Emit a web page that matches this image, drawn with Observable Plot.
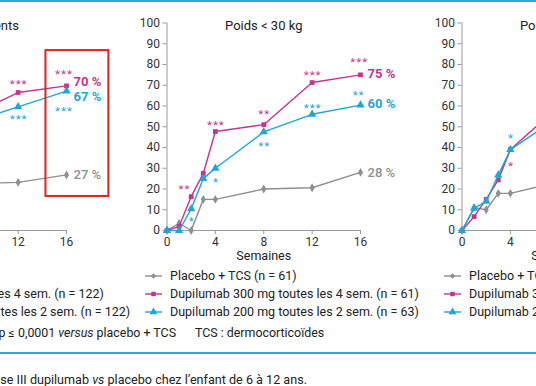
<!DOCTYPE html>
<html><head><meta charset="utf-8">
<script src="https://cdn.jsdelivr.net/npm/d3@7"></script>
<script src="https://cdn.jsdelivr.net/npm/@observablehq/plot@0.6"></script>
<style>
html,body{margin:0;padding:0;background:#fff;}
body{width:536px;height:386px;overflow:hidden;position:relative;font-family:Roboto,"DejaVu Sans",sans-serif;color:#333;}
.abs{position:absolute;white-space:nowrap;}
svg{overflow:visible;}
.stars text{letter-spacing:1px;}
</style></head><body>
<script>
// ---------- data ----------
const seriesKeys = ["placebo", "q4w300", "q2w200"];
const weeksAll = [8, 12, 16];
const allPlacebo = [22.5, 23.2, 26.8];
const all300q4w = [55.3, 66.5, 69.7];
const all200q2w = [51.9, 59.6, 67.2];

const weeksLt30 = [0, 1, 2, 3, 4, 8, 12, 16];
const lt30Placebo = [0, 3.5, 0, 15, 15, 20, 20.6, 28];
const lt30_300q4w = [0, 2, 16.3, 27.5, 47.7, 51, 71.3, 75];
const lt30_200q2w = [0, 0, 10.4, 25, 30, 47.5, 56, 60.4];

const weeksGe30 = [0, 1, 2, 3, 4, 8];
const ge30Placebo = [0, 11, 10, 17.9, 17.9, 23.4];
const ge30_300q4w = [0, 6.7, 15, 24.4, 39, 59.8];
const ge30_200q2w = [0, 10.7, 14, 26.7, 39, 54.6];

const endLabelsAll = ["27 %", "70 %", "67 %"];
const endLabelsLt30 = ["28 %", "75 %", "60 %"];

// significance marks: [week, value, text, seriesIndex]
const starsAll = [[12, 71.5, "***", 1], [12, 54.9, "***", 2], [15.75, 76.3, "***", 1], [15.75, 58.7, "***", 2]];
const starsLt30 = [[1.4, 20.9, "**", 1], [2, 5.6, "*", 2], [4, 52.0, "***", 1], [4, 24.4, "*", 2],
  [8, 57.0, "**", 1], [8, 42.0, "**", 2], [12, 76.0, "***", 1], [12, 60.2, "***", 2],
  [15.85, 82.3, "***", 1], [15.8, 66.2, "**", 2]];
const starsGe30 = [[4, 45.8, "*", 2], [4, 32.1, "*", 1]];

const titles = ["Tous les patients", "Poids < 30 kg", "Poids \u2265 30 kg"];
const xTicks = [0, 4, 8, 12, 16];
const yTicks = [0, 10, 20, 30, 40, 50, 60, 70, 80, 90, 100];
const xLabel = "Semaines";

const legendAll = ["Placebo + TCS (n = 123)", "Dupilumab 300 mg toutes les 4 sem. (n = 122)", "Dupilumab 100/200 mg toutes les 2 sem. (n = 122)"];
const legendLt30 = ["Placebo + TCS (n = 61)", "Dupilumab 300 mg toutes les 4 sem. (n = 61)", "Dupilumab 200 mg toutes les 2 sem. (n = 63)"];
const legendGe30 = ["Placebo + TCS (n = 62)", "Dupilumab 300 mg toutes les 4 sem. (n = 61)", "Dupilumab 200 mg toutes les 2 sem. (n = 59)"];

const highlightAll = {x1: 14.3, x2: 19.5, y1: 16.4, y2: 86.7};

const footnote = "* p < 0,05 ; ** p < 0,001 ; *** p \u2264 0,0001 <i>versus</i> placebo + TCS";
const footnote2 = "TCS : dermocortico\u00efdes";
const caption = "Figure 2. \u00c9tude de phase III dupilumab <i>vs</i> placebo chez l\u2019enfant de 6 \u00e0 12 ans.";

// ---------- styles ----------
const colors = ["#8f8f8f", "#c2368d", "#1ea6d6"];
const symbols = ["diamond", "square", "triangle"];
const symR = [2.7, 2.7, 3.1];
const BLUE = "#2aa8e0";

function rows(weeks, vals) { return weeks.map((w, i) => ({week: w, value: vals[i]})); }

const panels = [
  {left: -164.5, title: titles[0], data: [rows(weeksAll, allPlacebo), rows(weeksAll, all300q4w), rows(weeksAll, all200q2w)],
   labels: endLabelsAll, labelDy: [0, -4, 6], stars: starsAll, legend: legendAll, legendText: -152, highlight: highlightAll},
  {left: 130, title: titles[1], data: [rows(weeksLt30, lt30Placebo), rows(weeksLt30, lt30_300q4w), rows(weeksLt30, lt30_200q2w)],
   labels: endLabelsLt30, labelDy: [0, -1.5, -1], stars: starsLt30, legend: legendLt30, legendText: 170},
  {left: 424.5, title: titles[2], data: [rows(weeksGe30, ge30Placebo), rows(weeksGe30, ge30_300q4w), rows(weeksGe30, ge30_200q2w)],
   labels: null, labelDy: [0, 0, 0], stars: starsGe30, legend: legendGe30, legendText: 469}
];

function addDiv(html, style) {
  const d = document.createElement("div");
  d.className = "abs";
  d.innerHTML = html;
  Object.assign(d.style, style);
  document.body.appendChild(d);
  return d;
}

// top stripe & rule
addDiv("", {left: "0px", top: "0px", width: "536px", height: "2px", background: BLUE});
addDiv("", {left: "0px", top: "352px", width: "536px", height: "2px", background: BLUE});

const drawOrder = [0, 1, 2];
for (const p of panels) {
  const marks = [
    Plot.ruleY([0], {stroke: "#9a9a9a"}),
    Plot.ruleX([0], {stroke: "#9a9a9a"}),
    Plot.axisY({ticks: yTicks, tickSize: 4, tickPadding: 3, stroke: "#9a9a9a", fill: "#333", label: null, fontSize: 12}),
    Plot.axisX({ticks: xTicks, tickSize: 4, tickPadding: 3, stroke: "#9a9a9a", fill: "#333", label: null, fontSize: 12}),
    Plot.text([p.title], {frameAnchor: "top", lineAnchor: "middle", dy: 2.5, fontSize: 13, fill: "#222"}),
    Plot.text([xLabel], {frameAnchor: "bottom", lineAnchor: "middle", dy: 25, fontSize: 12.5, fill: "#222"})
  ];
  for (const s of drawOrder) {
    marks.push(Plot.line(p.data[s], {x: "week", y: "value", stroke: colors[s], strokeWidth: 1.4}));
    marks.push(Plot.dot(p.data[s], {x: "week", y: "value", symbol: symbols[s], fill: colors[s], r: symR[s]}));
  }
  marks.push(Plot.text(p.stars, {x: d => d[0], y: d => d[1], text: d => d[2], fill: d => colors[d[3]], fontSize: 11.5,
    lineAnchor: "middle", dy: 2.5, dx: 0.5, className: "stars"}));
  if (p.labels) {
    for (const s of [0, 1, 2]) {
      const last = p.data[s][p.data[s].length - 1];
      marks.push(Plot.text([last], {x: "week", y: "value", text: () => p.labels[s], textAnchor: "start", dx: 7, dy: p.labelDy[s],
        fill: colors[s], fontSize: 13, fontWeight: s === 0 ? 500 : 700, lineAnchor: "middle"}));
    }
  }
  if (p.highlight) {
    marks.push(Plot.rect([p.highlight], {x1: "x1", x2: "x2", y1: "y1", y2: "y2", fill: "none", stroke: "#e2231a", strokeWidth: 2}));
  }
  const chart = Plot.plot({
    width: 275, height: 262,
    marginLeft: 36.5, marginRight: 45, marginTop: 22.5, marginBottom: 32,
    x: {domain: [0, 16], axis: null},
    y: {domain: [0, 100], axis: null},
    color: {type: "identity"},
    style: {fontFamily: "Roboto, 'DejaVu Sans', sans-serif", fontSize: "12px", color: "#333", background: "transparent", overflow: "visible"},
    marks
  });
  chart.style.position = "absolute";
  chart.style.left = p.left + "px";
  chart.style.top = "0px";
  document.body.appendChild(chart);

  // legend
  const rowsY = [276, 294, 312];
  p.legend.forEach((txt, i) => {
    const sx = p.legendText - 25;
    const svg = d3.create("svg").attr("width", 17).attr("height", 10)
      .style("position", "absolute").style("left", sx + "px").style("top", (rowsY[i] - 5) + "px");
    svg.append("line").attr("x1", 0).attr("x2", 17).attr("y1", 5).attr("y2", 5).attr("stroke", colors[i]).attr("stroke-width", 1.4);
    svg.append("path").attr("transform", "translate(8.5,5)").attr("fill", colors[i])
      .attr("d", d3.symbol().type([d3.symbolDiamond2, d3.symbolSquare, d3.symbolTriangle][i]).size(i === 2 ? 26 : 20)());
    document.body.appendChild(svg.node());
    addDiv(txt, {left: p.legendText + "px", top: (rowsY[i] - 8) + "px", fontSize: "12.5px", lineHeight: "16px", color: "#222"});
  });
}

// footnotes
addDiv(footnote, {right: (536 - 176) + "px", top: "325px", fontSize: "12.4px", lineHeight: "16px", color: "#222"});
addDiv(footnote2, {left: "195px", top: "325px", fontSize: "12.4px", lineHeight: "16px", color: "#222"});
addDiv(caption, {right: (536 - 307) + "px", top: "371px", fontSize: "12.6px", lineHeight: "18px", color: "#222"});
</script>
</body></html>
